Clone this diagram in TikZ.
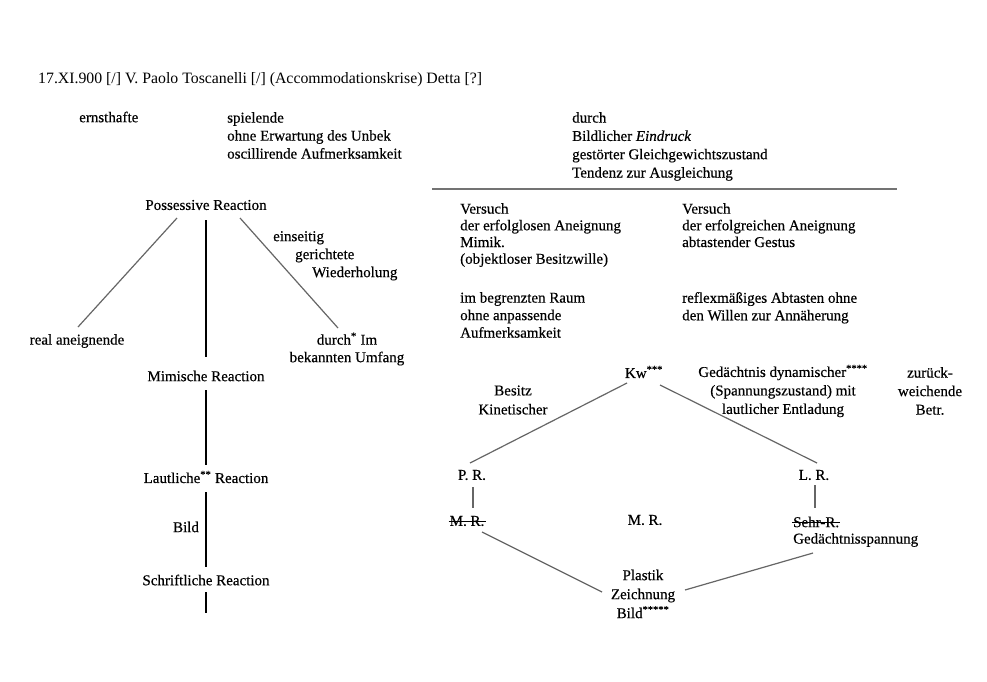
\documentclass[tikz,border=0pt]{standalone}
\usepackage{fontspec}
\setmainfont[FakeBold=0.4]{Liberation Serif}
\newfontfamily\titlefont{Liberation Serif}
\usetikzlibrary{calc}
\begin{document}
\begin{tikzpicture}[x=1pt,y=-1pt,
 txt/.style={inner sep=0pt, font=\fontsize{15}{17.5}\selectfont},
 blk/.style={txt, align=left, anchor=north west},
 cblk/.style={txt, align=center},
 ttl/.style={inner sep=0pt, anchor=west, font=\titlefont\fontsize{15.8}{20}\selectfont},
 vline/.style={draw=black, line width=1.3pt},
 dline/.style={draw=black!60, line width=1.2pt},
 strike/.style={draw=black, line width=0.8pt},
 rulestyle/.style={draw=black!55, line width=1.8pt}]
\useasboundingbox[fill=white] (0,0) rectangle (987,681);

% title and top texts
\node[ttl] (title) at (38,80) {17.XI.900 [/] V. Paolo Toscanelli [/] (Accommodationskrise) Detta [?]};
\node[txt, anchor=west] (ernst) at (79,117) {ernsthafte};
\node[blk, font=\fontsize{15}{18}\selectfont] (spiel) at (227,112) {spielende\\ohne Erwartung des Unbek\\oscillirende Aufmerksamkeit};
\node[blk, font=\fontsize{15}{18.3}\selectfont] (durchB) at (572,112) {durch\\Bildlicher \textit{Eindruck}\\gestörter Gleichgewichtszustand\\Tendenz zur Ausgleichung};
\coordinate (ruleL) at (432,189);
\coordinate (ruleR) at (897,189);
\draw[rulestyle] (ruleL) -- (ruleR);

% left tree
\node[txt] (poss) at (206,205) {Possessive Reaction};
\node[txt] (realan) at (77,341) {real aneignende};
\node[blk, font=\fontsize{15}{18}\selectfont] (einseitig) at (273,231) {einseitig\\\hspace*{22pt}gerichtete\\\hspace*{39pt}Wiederholung};
\node[cblk] (durchIm) at (347,349) {durch\textsuperscript{*} Im\\bekannten Umfang};
\node[txt] (mimi) at (206,376) {Mimische Reaction};
\node[txt] (laut) at (206,477) {Lautliche\textsuperscript{**} Reaction};
\node[txt] (bild) at (186,527) {Bild};
\node[txt] (schrift) at (206,580) {Schriftliche Reaction};
\coordinate (tail) at (206,613);

\draw[dline] ($(poss)+(-29,13)$) -- ($(realan)+(1,-14)$);
\draw[vline] ($(poss)+(0,15)$) -- ($(mimi)+(0,-19)$);
\draw[dline] ($(poss)+(34,13)$) -- ($(durchIm)+(-9,-21)$);
\draw[vline] ($(mimi)+(0,14)$) -- ($(laut)+(0,-12)$);
\draw[vline] ($(laut)+(0,15)$) -- ($(schrift)+(0,-13)$);
\draw[vline] ($(schrift)+(0,12)$) -- (tail);

% right side
\node[blk, font=\fontsize{15}{16.7}\selectfont] (vers1) at (460,203) {Versuch\\der erfolglosen Aneignung\\Mimik.\\(objektloser Besitzwille)};
\node[blk, font=\fontsize{15}{16.7}\selectfont] (vers2) at (682,203) {Versuch\\der erfolgreichen Aneignung\\abtastender Gestus};
\node[blk] (raum) at (460,292) {im begrenzten Raum\\ohne anpassende\\Aufmerksamkeit};
\node[blk] (reflex) at (682,292) {reflexmäßiges Abtasten ohne\\den Willen zur Annäherung};

\node[txt] (kw) at (644,372) {Kw\textsuperscript{***}};
\node[cblk, font=\fontsize{15}{19}\selectfont] (besitz) at (513,400) {Besitz\\Kinetischer};
\node[cblk, font=\fontsize{15}{18.5}\selectfont] (gedy) at (783,391) {Gedächtnis dynamischer\textsuperscript{****}\\(Spannungszustand) mit\\lautlicher Entladung};
\node[cblk, font=\fontsize{15}{18.5}\selectfont] (zur) at (930,391) {zurück-\\weichende\\Betr.};
\node[txt] (pr) at (472,475) {P. R.};
\node[txt] (lr) at (814,475) {L. R.};
\node[txt] (mr1) at (467,521) {M. R.};
\node[txt] (mr2) at (645,520) {M. R.};
\node[txt, anchor=west] (sehr) at (793,522) {Sehr-R.};
\node[txt, anchor=west] (gedsp) at (793,540) {Gedächtnisspannung};
\node[cblk, font=\fontsize{15}{19}\selectfont] (plastik) at (643,594) {Plastik\\Zeichnung\\Bild\textsuperscript{*****}};

\draw[strike] ($(mr1.west)+(-1,0)$) -- ($(mr1.east)+(1,0)$);
\draw[strike] ($(sehr.west)+(-1,0)$) -- ($(sehr.east)+(1,0)$);

\draw[dline] ($(kw)+(-17,11)$) -- ($(pr)+(-2,-12)$);
\draw[dline] ($(kw)+(16,13)$) -- ($(lr)+(3,-12)$);
\draw[dline] ($(pr)+(1,12)$) -- ($(mr1)+(6,-13)$);
\draw[dline] ($(lr)+(1,10)$) -- ($(sehr.west)+(22,-14)$);
\draw[dline] ($(mr1)+(15,11)$) -- ($(plastik)+(-41,-2)$);
\draw[dline] ($(gedsp.west)+(20,13)$) -- ($(plastik)+(42,-4)$);
\end{tikzpicture}
\end{document}
